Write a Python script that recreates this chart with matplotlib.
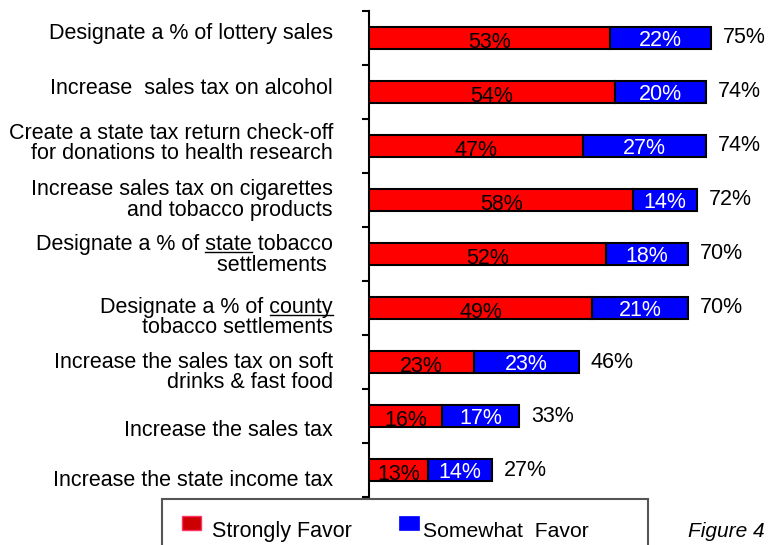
import matplotlib
matplotlib.use("Agg")
import matplotlib.pyplot as plt
import numpy as np
from matplotlib.patches import Rectangle
from matplotlib.lines import Line2D

plt.rcParams['font.family'] = ['Liberation Sans', 'DejaVu Sans']

categories = [
    "Designate a % of lottery sales",
    "Increase  sales tax on alcohol",
    "Create a state tax return check-off\nfor donations to health research",
    "Increase sales tax on cigarettes\nand tobacco products",
    "Designate a % of state tobacco\nsettlements ",
    "Designate a % of county\ntobacco settlements",
    "Increase the sales tax on soft\ndrinks & fast food",
    "Increase the sales tax",
    "Increase the state income tax",
]
# words underlined in the category labels: (category index, word)
underlined = [(4, "state"), (5, "county")]
strongly = [53, 54, 47, 58, 52, 49, 23, 16, 13]
somewhat = [22, 20, 27, 14, 18, 21, 23, 17, 14]

fs = 15.5
fig = plt.figure(figsize=(7.8, 5.45), dpi=100, facecolor='white')
ax = fig.add_axes([0.473, 0.088, 0.507, 0.892])

y = np.arange(len(categories))
h = 0.42
ax.barh(y, strongly, height=h, color='#FF0000', edgecolor='black', linewidth=1.5, zorder=3)
ax.barh(y, somewhat, left=strongly, height=h, color='#0000FF', edgecolor='black', linewidth=1.5, zorder=3)

for yi, s, w in zip(y, strongly, somewhat):
    ax.text(s / 2, yi + 0.08, f"{s}%", ha='center', va='center', fontsize=fs, color='black', zorder=4)
    ax.text(s + w / 2, yi + 0.05, f"{w}%", ha='center', va='center', fontsize=fs, color='white', zorder=4)
    ax.text(s + w + 2.6, yi, f"{s + w}%", ha='left', va='center', fontsize=fs, color='black')

ax.set_xlim(0, 86.8)
ax.set_ylim(len(categories) - 0.5, -0.5)
ax.set_xticks([])
ax.set_yticks([])
ax.set_yticks(np.arange(-0.5, len(categories)), minor=True)
ax.tick_params(axis='y', which='minor', length=5, width=1.5, direction='out')
for side in ['top', 'right', 'bottom']:
    ax.spines[side].set_visible(False)
ax.spines['left'].set_linewidth(1.5)

# category labels, nudged up/down like the original layout
label_shift = [-0.09, -0.07, -0.04, 0.0, 0.02, 0.17, 0.19, 0.26, 0.2]
cat_texts = []
for yi, lab, dy in zip(y, categories, label_shift):
    t = ax.text(-0.091, yi + dy, lab, transform=ax.get_yaxis_transform(),
                ha='right', va='center', multialignment='right',
                fontsize=fs, linespacing=0.95)
    cat_texts.append(t)

# legend box (runs off the bottom edge like the original)
fig.add_artist(Rectangle((0.2077, -0.05), 0.623, 0.1344, transform=fig.transFigure,
                         facecolor='none', edgecolor='#555555', lw=1.5))
fig.add_artist(Rectangle((0.2333, 0.0275), 0.0244, 0.0257, transform=fig.transFigure,
                         facecolor='#CC0000', edgecolor='#FF3366', lw=1.0))
fig.text(0.2718, 0.0239, "Strongly Favor", fontsize=fs, ha='left', va='center')
fig.add_artist(Rectangle((0.5115, 0.0275), 0.0256, 0.0257, transform=fig.transFigure,
                         facecolor='#0000FF', edgecolor='#0000FF', lw=0.5))
fig.text(0.5423, 0.0239, "Somewhat  Favor", fontsize=15.2, ha='left', va='center')

fig.text(0.882, 0.0147, "Figure 4", fontsize=15, style='italic', ha='left', va='baseline')

# underline single words in the first line of some labels
fig.canvas.draw()
renderer = fig.canvas.get_renderer()
for idx, word in underlined:
    t = cat_texts[idx]
    prop = t.get_fontproperties()
    first = t.get_text().split("\n")[0]
    bb = t.get_window_extent(renderer)
    prefix = first[:first.index(word)]
    w_line, h_line, d_line = renderer.get_text_width_height_descent(first, prop, ismath=False)
    w_pre, _, _ = renderer.get_text_width_height_descent(prefix + "x", prop, ismath=False)
    w_x, _, _ = renderer.get_text_width_height_descent("x", prop, ismath=False)
    w_word, _, _ = renderer.get_text_width_height_descent(word, prop, ismath=False)
    x0 = bb.x1 - w_line + (w_pre - w_x)
    yb = bb.y1 - (h_line - d_line) - 2
    fx0, fy = fig.transFigure.inverted().transform((x0, yb))
    fx1, _ = fig.transFigure.inverted().transform((x0 + w_word, yb))
    fig.add_artist(Line2D([fx0, fx1], [fy, fy], transform=fig.transFigure, color='black', lw=1.0))

fig.savefig("out.png", dpi=100, facecolor='white')
